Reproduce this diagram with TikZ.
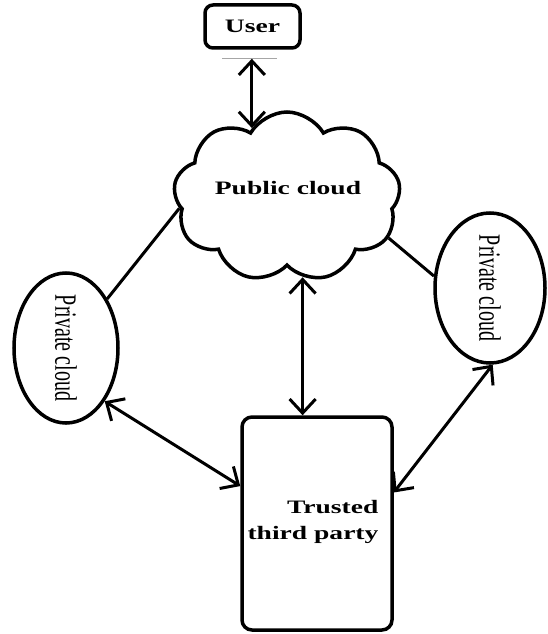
\documentclass[tikz,border=0pt]{standalone}
\usepackage{fontspec}
\setmainfont{Liberation Serif}
\usepackage{graphicx}
\usetikzlibrary{shapes.geometric,shapes.symbols,arrows.meta}
\newcommand\widetxt[1]{\scalebox{1.45}[1]{#1}}
\begin{document}
\begin{tikzpicture}[x=1pt,y=-1pt,
  shp/.style={draw, line width=3.5pt},
  conn/.style={line width=3pt},
  dbl/.style={conn, {Straight Barb[length=14pt,width=26pt]}-{Straight Barb[length=14pt,width=26pt]}},
  lbl/.style={font=\fontsize{19}{26}\selectfont\bfseries, inner sep=0pt},
  ptxt/.style={font=\fontsize{20}{23}\selectfont}]
\useasboundingbox (0,0) rectangle (547,634);
% nodes
\node[shp, rounded corners=8pt, minimum width=95pt, minimum height=43pt, inner sep=0pt, lbl] (u) at (252.5,26.5) {\widetxt{User}};
\node[shp, cloud, cloud puffs=9, cloud puff arc=120, aspect=1.35, minimum width=227pt, minimum height=170pt, inner sep=0pt] (cl) at (287,197) {};
\node[lbl] (clt) at (288,188) {\widetxt{Public cloud}};
\node[shp, ellipse, minimum width=104pt, minimum height=134pt, inner sep=0pt, ptxt] (lp) at (66,348) {\scalebox{1.55}[1]{\rotatebox{-90}{Private cloud}}};
\node[shp, ellipse, minimum width=110pt, minimum height=144pt, inner sep=0pt, ptxt] (rp) at (490,288) {\scalebox{1.55}[1]{\rotatebox{-90}{Private cloud}}};
\node[shp, rounded corners=10pt, minimum width=150pt, minimum height=213pt, inner sep=0pt] (tp) at (317,523.5) {};
\node[lbl, align=right] (tpt) at (313,522) {\widetxt{Trusted}\\\widetxt{third party}};
% gray rule under user box
\draw[black!35, line width=1pt] ([xshift=-30.5pt,yshift=-9pt]u.south) -- ([xshift=24.5pt,yshift=-9pt]u.south);
% connectors
\draw[dbl, shorten <=9pt] (cl.117 |- u.south) -- (cl.117);
\draw[dbl] (cl.-79.5) -- (cl.-79.5 |- tp.north);
\draw[dbl] (lp.-54) -- (tp.154);
\draw[dbl] (rp.-88) -- (tp.22);
\draw[conn] (cl.186.6) -- (lp.50);
\draw[conn] (cl.-22) -- (rp.168);
\end{tikzpicture}
\end{document}
